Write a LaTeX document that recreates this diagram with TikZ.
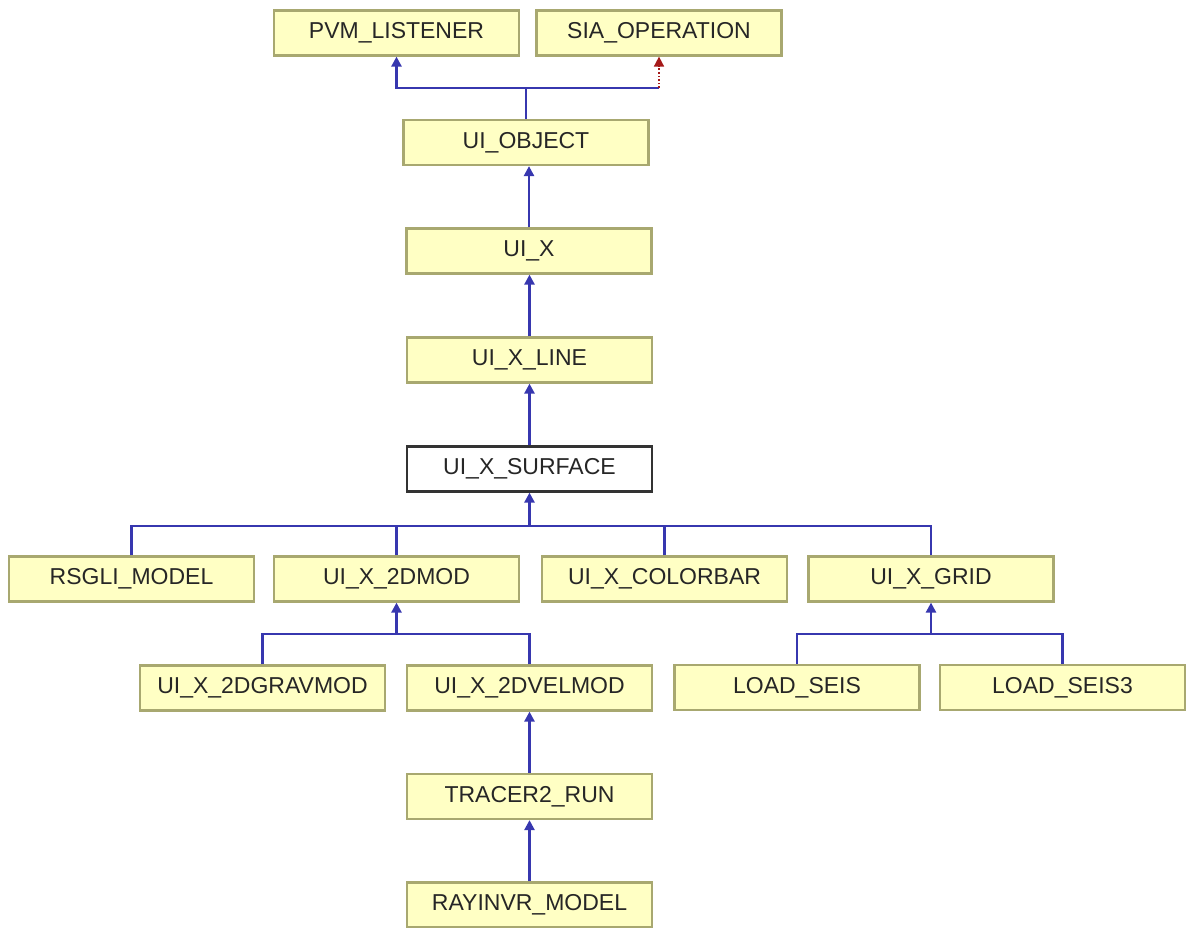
\documentclass[tikz,border=0pt]{standalone}
\usepackage{fontspec}
\setmainfont{Liberation Sans}
\usetikzlibrary{arrows.meta}
\definecolor{boxfill}{RGB}{255,255,196}
\definecolor{boxline}{RGB}{168,168,112}
\definecolor{edgeblue}{RGB}{55,55,175}
\definecolor{edgered}{RGB}{165,25,25}
\tikzset{
  x=1pt, y=1pt,
  cls/.style={draw=boxline, fill=boxfill, line width=2.2pt,
    minimum width=245pt, minimum height=45pt, inner sep=0pt,
    font=\fontsize{23}{27}\selectfont, text=black!85},
  current/.style={cls, draw=black!80, fill=white},
  inherit/.style={draw=edgeblue, line width=2.4pt,
    -{Triangle[width=10pt,length=10pt]}},
  realize/.style={draw=edgered, line width=1.6pt, dotted,
    -{Triangle[width=10pt,length=10pt]}},
  busline/.style={draw=edgeblue, line width=2.4pt},
}
\begin{document}
\begin{tikzpicture}
\useasboundingbox (0,0) rectangle (1186,-927);

% class boxes
\node[cls] (pvm)      at (396.5,-33)   {PVM\_LISTENER};
\node[cls] (sia)      at (659,-33)     {SIA\_OPERATION};
\node[cls] (uiobject) at (526,-142.5)  {UI\_OBJECT};
\node[cls] (uix)      at (529,-251)    {UI\_X};
\node[cls] (uixline)  at (529.5,-360)  {UI\_X\_LINE};
\node[current] (surface) at (529.5,-469) {UI\_X\_SURFACE};
\node[cls] (rsgli)    at (131.5,-579)  {RSGLI\_MODEL};
\node[cls] (mod2d)    at (396.5,-579)  {UI\_X\_2DMOD};
\node[cls] (colorbar) at (664.5,-579)  {UI\_X\_COLORBAR};
\node[cls] (grid)     at (931,-579)    {UI\_X\_GRID};
\node[cls] (grav)     at (262.5,-688)  {UI\_X\_2DGRAVMOD};
\node[cls] (vel)      at (529.5,-688)  {UI\_X\_2DVELMOD};
\node[cls] (seis)     at (797,-687.5)  {LOAD\_SEIS};
\node[cls] (seis3)    at (1062.5,-687.5) {LOAD\_SEIS3};
\node[cls] (tracer)   at (529.5,-796.5) {TRACER2\_RUN};
\node[cls] (rayinvr)  at (529.5,-905)  {RAYINVR\_MODEL};

% junction points of the merged edges
\coordinate (busTop) at (526,-88);
\coordinate (siaBus) at (659,-88);
\coordinate (busSurf) at (529.5,-526);
\coordinate (busMod) at (396.5,-634);
\coordinate (busGrid) at (931,-634);

% inheritance edges
\draw[inherit] (uiobject.north) -- (busTop) -| (pvm.south);
\draw[busline] (busTop) -- (siaBus);
\draw[realize] (siaBus) -- (sia.south);
\draw[inherit] (uix.north) -- (uiobject.south -| uix.north);
\draw[inherit] (uixline.north) -- (uix.south -| uixline.north);
\draw[inherit] (surface.north) -- (uixline.south);

\draw[busline] (rsgli.north) |- (busSurf);
\draw[busline] (mod2d.north) |- (busSurf);
\draw[busline] (grid.north) |- (busSurf);
\draw[busline] (colorbar.north) -- (colorbar.north |- busSurf);
\draw[inherit] (busSurf) -- (surface.south);

\draw[busline] (grav.north) |- (busMod);
\draw[busline] (vel.north) |- (busMod);
\draw[inherit] (busMod) -- (mod2d.south);

\draw[busline] (seis.north) |- (busGrid);
\draw[busline] (seis3.north) |- (busGrid);
\draw[inherit] (busGrid) -- (grid.south);

\draw[inherit] (tracer.north) -- (vel.south);
\draw[inherit] (rayinvr.north) -- (tracer.south);
\end{tikzpicture}
\end{document}
